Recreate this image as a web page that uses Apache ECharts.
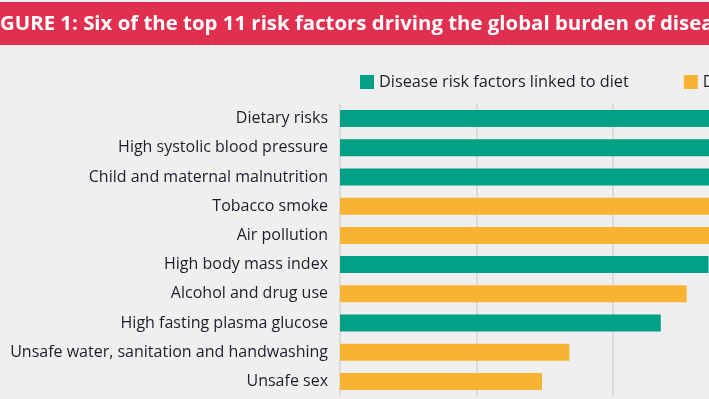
<!DOCTYPE html>
<html><head><meta charset="utf-8">
<script src="https://cdn.jsdelivr.net/npm/echarts@6/dist/echarts.min.js"></script>
<style>
html,body{margin:0;padding:0;width:709px;height:399px;overflow:hidden;background:#f0efef;}
#c{position:absolute;left:0;top:0;width:1040px;height:399px;}
</style></head>
<body><div id="c"></div>
<script>
const titleText = 'FIGURE 1: Six of the top 11 risk factors driving the global burden of disease are related to diet';
const categories = ['Dietary risks','High systolic blood pressure','Child and maternal malnutrition','Tobacco smoke','Air pollution','High body mass index','Alcohol and drug use','High fasting plasma glucose','Unsafe water, sanitation and handwashing','Unsafe sex'];
const values = [240, 212, 176, 171, 147, 135, 127, 117.5, 84, 74];
const linkedToDiet = [true, true, true, false, false, true, false, true, false, false];
const seriesNames = ['Disease risk factors linked to diet','Disease risk factors not linked to diet'];

const dietData = values.map((v,i)=> linkedToDiet[i] ? v : '-');
const otherData = values.map((v,i)=> linkedToDiet[i] ? '-' : v);

const titleFont = 'bold 20.4px "Open Sans"';
const cv = document.createElement('canvas').getContext('2d');
cv.font = titleFont;
const fiW = cv.measureText('FI').width;

const chart = echarts.init(document.getElementById('c'), null, {renderer:'canvas'});
chart.setOption({
  backgroundColor:'#f0efef',
  animation:false,
  graphic:[
    {type:'rect', left:0, top:2, shape:{width:1040, height:43}, style:{fill:'#e1304f'}},
    {type:'text', x:-fiW, y:24, style:{text:titleText, font:titleFont, fill:'#ffffff', textVerticalAlign:'middle'}}
  ],
  legend:{
    left:360, top:74, padding:0, itemWidth:14, itemHeight:14, itemGap:55,
    icon:'rect',
    textStyle:{fontFamily:'Open Sans', fontSize:16.3, color:'#1d1d2b'},
    data:seriesNames
  },
  grid:{left:340, top:104, height:292, right:17.5},
  xAxis:{type:'value', min:0, max:250, interval:50,
    axisLabel:{show:false}, axisLine:{show:false}, axisTick:{show:false},
    splitLine:{show:true, lineStyle:{color:'#d4d4d4', width:1.5}}},
  yAxis:{type:'category', inverse:true, data:categories,
    axisLine:{show:false}, axisTick:{show:false},
    axisLabel:{margin:12, fontFamily:'Open Sans', fontSize:16, color:'#1d1d2b'}},
  series:[
    {name:seriesNames[0], type:'bar', stack:'s', data:dietData, barWidth:17, itemStyle:{color:'#00a086'}},
    {name:seriesNames[1], type:'bar', stack:'s', data:otherData, barWidth:17, itemStyle:{color:'#f8b334'}}
  ]
});
</script></body></html>
